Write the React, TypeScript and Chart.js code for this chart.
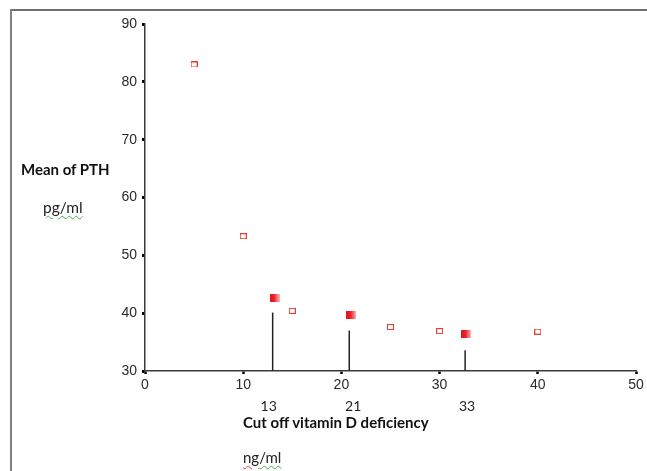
import React, { useEffect, useRef } from "react";
import { Chart, registerables } from "chart.js";

Chart.register(...registerables);

// Hollow markers: mean PTH (pg/ml) at each vitamin D level (ng/ml)
const vitD = [5, 10, 15, 25, 30, 40];
const pthMean = [83.0, 53.3, 40.4, 37.6, 36.9, 36.8];

// Filled (gradient) markers near the cut-offs
const cutoffMarkX = [13.2, 21.0, 32.7];
const cutoffMarkY = [42.6, 39.7, 36.4];

// Vertical stems at cut-offs
const stemX = [13.0, 20.8, 32.6];
const stemTop = [40.1, 37.0, 33.6];

// Cut-off labels below the x axis
const cutoffLabels = ["13", "21", "33"];
const cutoffLabelX = [12.6, 21.2, 32.8];

const xMin = 0, xMax = 50, xStep = 10;
const yMin = 30, yMax = 90, yStep = 10;

function hollowSquare(): HTMLCanvasElement {
  const c = document.createElement("canvas");
  c.width = 7;
  c.height = 6;
  const g = c.getContext("2d")!;
  g.fillStyle = "#ffffff";
  g.fillRect(0, 0, 7, 6);
  g.strokeStyle = "#ee3a2c";
  g.lineWidth = 1;
  g.strokeRect(0.5, 0.5, 6, 5);
  return c;
}

function gradientSquare(): HTMLCanvasElement {
  const c = document.createElement("canvas");
  c.width = 10;
  c.height = 8;
  const g = c.getContext("2d")!;
  const grad = g.createLinearGradient(0, 0, 10, 0);
  grad.addColorStop(0, "#e5141c");
  grad.addColorStop(0.45, "#e8222a");
  grad.addColorStop(1, "#f9b9bb");
  g.fillStyle = grad;
  g.fillRect(0, 0, 10, 8);
  return c;
}

const framePlugin = {
  id: "frame",
  beforeDraw(chart: any) {
    const ctx = chart.ctx;
    ctx.save();
    ctx.fillStyle = "#fff";
    ctx.fillRect(0, 0, chart.width, chart.height);
    ctx.fillStyle = "#6e6e6e";
    ctx.fillRect(10, 9, chart.width - 10, 2);
    ctx.fillStyle = "#808080";
    ctx.fillRect(10, 9, 2, chart.height - 9);
    ctx.restore();
  },
};

const labelPlugin = {
  id: "cutoffLabels",
  afterDraw(chart: any) {
    const ctx = chart.ctx;
    const xs = chart.scales.x;
    ctx.save();
    ctx.font = "14px Lato, 'Open Sans', sans-serif";
    ctx.fillStyle = "#222";
    ctx.textAlign = "center";
    ctx.textBaseline = "middle";
    cutoffLabels.forEach((t, i) => {
      ctx.fillText(t, xs.getPixelForValue(cutoffLabelX[i]), 406.5);
    });
    ctx.restore();
  },
};

export default function App() {
  const ref = useRef<HTMLCanvasElement>(null);
  useEffect(() => {
    const hollow = hollowSquare();
    const filled = gradientSquare();
    const stems = stemX.map((x, i) => ({
      type: "line" as const,
      data: [
        { x, y: yMin },
        { x, y: stemTop[i] },
      ],
      borderColor: "#222",
      borderWidth: 1.5,
      pointRadius: 0,
      showLine: true,
      order: 3,
    }));
    const tickFont = { family: "'Liberation Sans', Arial, sans-serif", size: 14 };
    const chart = new Chart(ref.current!, {
      type: "scatter",
      data: {
        datasets: [
          ...stems,
          {
            data: vitD.map((x, i) => ({ x, y: pthMean[i] })),
            pointStyle: hollow,
            pointRadius: 4,
            order: 1,
          } as any,
          {
            data: cutoffMarkX.map((x, i) => ({ x, y: cutoffMarkY[i] })),
            pointStyle: filled,
            pointRadius: 5,
            order: 1,
          } as any,
        ],
      },
      options: {
        animation: false,
        responsive: false,
        layout: { padding: { top: 24, right: 11, left: 0, bottom: 0 } },
        plugins: {
          legend: { display: false },
          tooltip: { enabled: false },
        },
        scales: {
          x: {
            type: "linear",
            min: xMin,
            max: xMax,
            afterFit: (s: any) => {
              s.height = 100;
            },
            ticks: {
              stepSize: xStep,
              padding: 3,
              color: "#2a2a2a",
              font: tickFont,
            },
            border: { display: true, color: "#3a3a3a", width: 1.5 },
            grid: {
              drawOnChartArea: false,
              drawTicks: true,
              tickLength: 3,
              tickWidth: 2.5,
              tickColor: "#000",
            },
          },
          y: {
            type: "linear",
            min: yMin,
            max: yMax,
            afterFit: (s: any) => {
              s.width = 145;
            },
            ticks: {
              stepSize: yStep,
              padding: 5,
              color: "#2a2a2a",
              font: tickFont,
            },
            border: { display: true, color: "#3a3a3a", width: 1.5 },
            grid: {
              drawOnChartArea: false,
              drawTicks: true,
              tickLength: 3,
              tickWidth: 3,
              tickColor: "#000",
            },
          },
        },
      },
      plugins: [framePlugin, labelPlugin],
    } as any);
    return () => chart.destroy();
  }, []);

  const wavy = (color: string): React.CSSProperties => ({
    textDecorationLine: "underline",
    textDecorationStyle: "wavy",
    textDecorationColor: color,
    textDecorationThickness: "1px",
    textUnderlineOffset: "2px",
  });

  const font = "Lato, 'Open Sans', sans-serif";

  return (
    <div
      style={{
        position: "absolute",
        left: 0,
        top: 0,
        width: 647,
        height: 471,
        overflow: "hidden",
      }}
    >
      <canvas
        ref={ref}
        width={647}
        height={471}
        style={{ position: "absolute", left: 0, top: 0 }}
      />
      <div
        style={{
          position: "absolute",
          left: 21,
          top: 160,
          fontFamily: font,
          fontWeight: 700,
          fontSize: 15,
          color: "#111",
          whiteSpace: "nowrap",
        }}
      >
        Mean of PTH
      </div>
      <div
        style={{
          position: "absolute",
          left: 43,
          top: 198,
          fontFamily: font,
          fontSize: 15.5,
          color: "#222",
          whiteSpace: "nowrap",
        }}
      >
        <span style={wavy("#4caf50")}>pg/ml</span>
      </div>
      <div
        style={{
          position: "absolute",
          left: 243,
          top: 413,
          fontFamily: font,
          fontWeight: 700,
          fontSize: 15,
          color: "#111",
          whiteSpace: "nowrap",
        }}
      >
        Cut off vitamin D deficiency
      </div>
      <div
        style={{
          position: "absolute",
          left: 243,
          top: 448,
          fontFamily: font,
          fontSize: 15,
          color: "#222",
          whiteSpace: "nowrap",
        }}
      >
        <span style={wavy("#e53935")}>ng</span>
        <span style={wavy("#4caf50")}>/ml</span>
      </div>
    </div>
  );
}
